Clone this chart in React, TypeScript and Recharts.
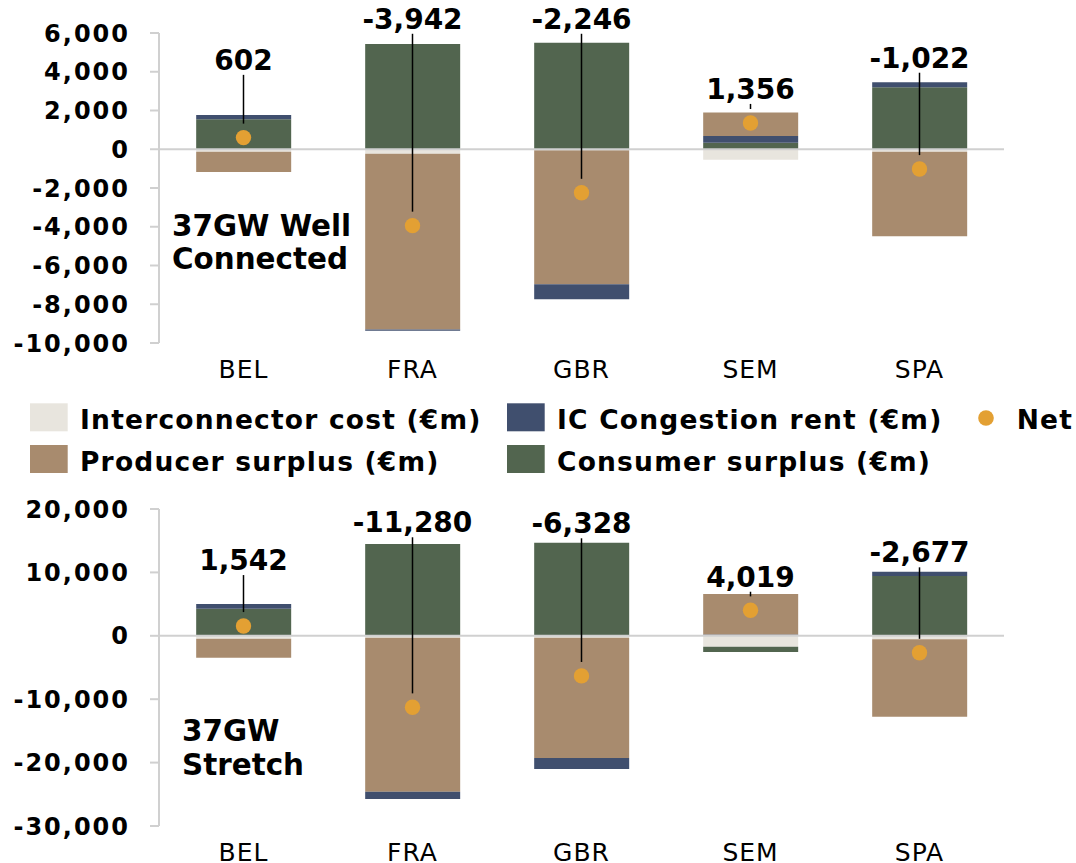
import {
  Bar,
  ComposedChart,
  ErrorBar,
  ReferenceLine,
  Scatter,
  XAxis,
  YAxis,
} from "recharts";

const COUNTRIES = ["BEL", "FRA", "GBR", "SEM", "SPA"];

// 37GW Well Connected (€m)
const WC_INTERCONNECTOR = [-124, -227, -50, -538, -124];
const WC_CONGESTION = [220, -65, -775, 347, 258];
const WC_PRODUCER = [-1044, -9080, -6915, 1206, -4362];
const WC_CONSUMER = [1550, 5430, 5494, 341, 3206];
const WC_NET = [602, -3942, -2246, 1356, -1022];
const WC_LABEL_AT = [3840, 5960, 5960, 2340, 3950];
const WC_TICKS = [-10000, -8000, -6000, -4000, -2000, 0, 2000, 4000, 6000];

// 37GW Stretch (€m)
const ST_INTERCONNECTOR = [-480, -310, -300, -1740, -560];
const ST_CONGESTION = [740, -1160, -1758, 200, 670];
const ST_PRODUCER = [-2998, -24290, -18960, 6389, -12217];
const ST_CONSUMER = [4280, 14480, 14690, -830, 9430];
const ST_NET = [1542, -11280, -6328, 4019, -2677];
const ST_LABEL_AT = [9580, 15540, 15380, 6950, 10800];
const ST_TICKS = [-30000, -20000, -10000, 0, 10000, 20000];

const C_IC = "#e8e5de";
const C_CONG = "#404f6e";
const C_PROD = "#a88b6e";
const C_CONS = "#52654f";
const C_NET = "#e3a033";
const GRID = "#d0d0d0";
const FONT = "DejaVu Sans, Verdana, sans-serif";

function buildRows(
  ic: number[],
  cong: number[],
  prod: number[],
  cons: number[],
  net: number[],
  labelAt: number[],
  gap: number
) {
  return COUNTRIES.map((name, i) => ({
    name,
    interconnector: ic[i],
    consumer: cons[i],
    congestionPos: Math.max(cong[i], 0),
    producer: prod[i],
    congestionNeg: Math.min(cong[i], 0),
    net: net[i],
    labelAt: labelAt[i],
    netErr: [-gap, labelAt[i] - net[i]],
  }));
}

const fmt = (v: number) => v.toLocaleString("en-US");

function YTick(props: any) {
  const { x, y, payload } = props;
  return (
    <text
      x={x}
      y={y}
      dy="0.355em"
      textAnchor="end"
      fontFamily={FONT}
      fontWeight="bold"
      fontSize={24}
      letterSpacing={2}
      fill="#000"
    >
      {fmt(payload.value)}
    </text>
  );
}

function XTick(props: any) {
  const { x, y, payload } = props;
  return (
    <text
      x={x}
      y={y + 35}
      textAnchor="middle"
      fontFamily={FONT}
      fontSize={25}
      letterSpacing={1}
      fill="#000"
    >
      {payload.value}
    </text>
  );
}

function NetDot(props: any) {
  const { cx, cy } = props;
  return <circle cx={cx} cy={cy} r={7.7} fill={C_NET} />;
}

function NetLabel(props: any) {
  const { cx, cy, payload } = props;
  return (
    <text
      x={cx}
      y={cy - 5}
      textAnchor="middle"
      fontFamily={FONT}
      fontWeight="bold"
      fontSize={28}
      fill="#000"
    >
      {fmt(payload.net)}
    </text>
  );
}

interface PanelProps {
  rows: any[];
  ticks: number[];
  height: number;
  top: number;
  xHeight: number;
  bottom: number;
}

function Panel({ rows, ticks, height, top, xHeight, bottom }: PanelProps) {
  return (
    <ComposedChart
      width={1076}
      height={height}
      data={rows}
      stackOffset="sign"
      barCategoryGap="22%"
      margin={{ top, right: 72, bottom, left: 0 }}
    >
      <XAxis
        dataKey="name"
        height={xHeight}
        axisLine={false}
        tickLine={false}
        tickSize={0}
        tickMargin={0}
        tick={<XTick />}
        interval={0}
      />
      <YAxis
        width={159}
        domain={[ticks[0], ticks[ticks.length - 1]]}
        ticks={ticks}
        interval={0}
        tickSize={9}
        tickMargin={20}
        axisLine={{ stroke: GRID, strokeWidth: 2 }}
        tickLine={{ stroke: GRID, strokeWidth: 2 }}
        tick={<YTick />}
      />
      <Bar dataKey="interconnector" stackId="s" fill={C_IC} isAnimationActive={false} />
      <Bar dataKey="consumer" stackId="s" fill={C_CONS} isAnimationActive={false} />
      <Bar dataKey="congestionPos" stackId="s" fill={C_CONG} isAnimationActive={false} />
      <Bar dataKey="producer" stackId="s" fill={C_PROD} isAnimationActive={false} />
      <Bar dataKey="congestionNeg" stackId="s" fill={C_CONG} isAnimationActive={false} />
      <ReferenceLine y={0} stroke={GRID} strokeWidth={2} />
      <Scatter dataKey="net" shape={<NetDot />} isAnimationActive={false}>
        <ErrorBar
          dataKey="netErr"
          direction="y"
          width={0}
          stroke="#000"
          strokeWidth={1.5}
          isAnimationActive={false}
        />
      </Scatter>
      <Scatter dataKey="labelAt" shape={<NetLabel />} isAnimationActive={false} />
    </ComposedChart>
  );
}

const wcRows = buildRows(
  WC_INTERCONNECTOR,
  WC_CONGESTION,
  WC_PRODUCER,
  WC_CONSUMER,
  WC_NET,
  WC_LABEL_AT,
  720
);
const stRows = buildRows(
  ST_INTERCONNECTOR,
  ST_CONGESTION,
  ST_PRODUCER,
  ST_CONSUMER,
  ST_NET,
  ST_LABEL_AT,
  2200
);

const LEGEND = [
  { label: "Interconnector cost (€m)", color: C_IC, x: 30, row: 0 },
  { label: "IC Congestion rent (€m)", color: C_CONG, x: 507, row: 0 },
  { label: "Producer surplus (€m)", color: C_PROD, x: 30, row: 1 },
  { label: "Consumer surplus (€m)", color: C_CONS, x: 507, row: 1 },
];

function Legend() {
  return (
    <svg width={1076} height={90} style={{ position: "absolute", left: 0, top: 395 }}>
      {LEGEND.map((l) => (
        <g key={l.label}>
          <rect x={l.x} y={8.3 + l.row * 41.7} width={37.7} height={28} fill={l.color} />
          <text
            x={l.x + 50}
            y={34.3 + l.row * 41.7}
            fontFamily={FONT}
            fontWeight="bold"
            fontSize={26.5}
            letterSpacing={1.2}
            fill="#000"
          >
            {l.label}
          </text>
        </g>
      ))}
      <circle cx={986} cy={23} r={7.8} fill={C_NET} />
      <text
        x={1016.7}
        y={34.3}
        fontFamily={FONT}
        fontWeight="bold"
        fontSize={26.5}
        letterSpacing={1.2}
        fill="#000"
      >
        Net
      </text>
    </svg>
  );
}

const noteStyle: React.CSSProperties = {
  position: "absolute",
  fontFamily: FONT,
  fontWeight: "bold",
  fontSize: 29.4,
  lineHeight: "33.8px",
  color: "#000",
  pointerEvents: "none",
};

export default function App() {
  return (
    <div style={{ position: "relative", width: 1076, height: 863, background: "#fff" }}>
      <style>{"body{margin:0}"}</style>
      <div style={{ position: "absolute", left: 0, top: 0 }}>
        <Panel rows={wcRows} ticks={WC_TICKS} height={390} top={33} xHeight={40} bottom={7} />
      </div>
      <div style={{ ...noteStyle, left: 172, top: 209.5 }}>
        37GW Well
        <br />
        Connected
      </div>
      <Legend />
      <div style={{ position: "absolute", left: 0, top: 480 }}>
        <Panel rows={stRows} ticks={ST_TICKS} height={383} top={29} xHeight={37} bottom={0} />
      </div>
      <div style={{ ...noteStyle, left: 182, top: 715 }}>
        37GW
        <br />
        Stretch
      </div>
    </div>
  );
}
